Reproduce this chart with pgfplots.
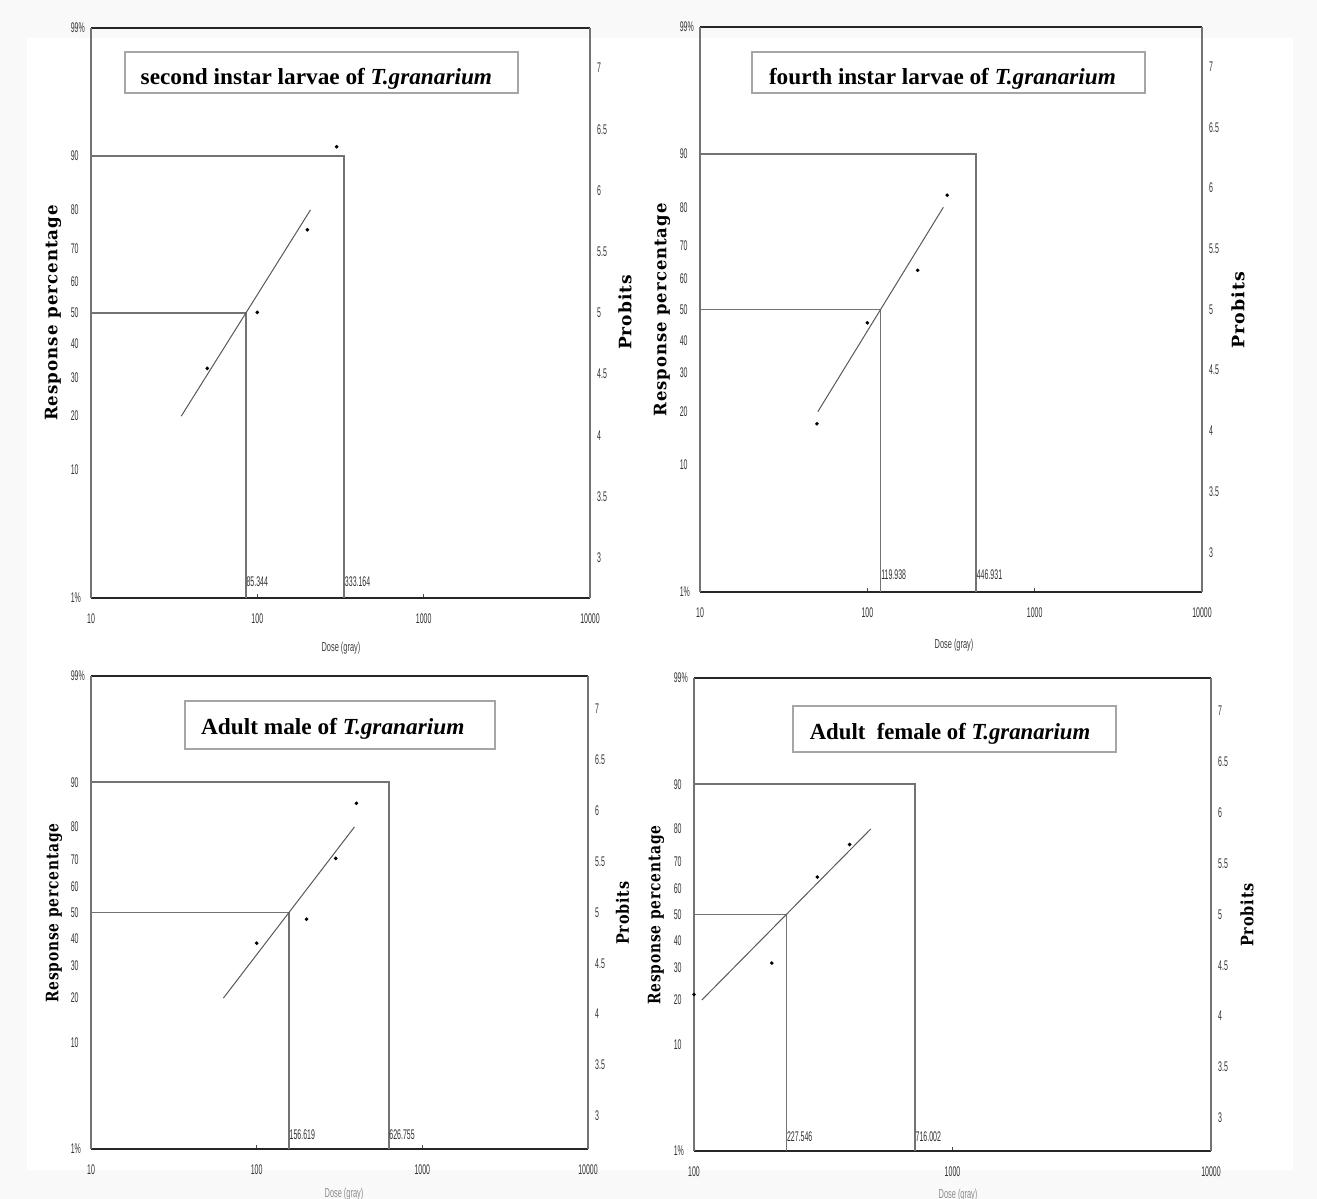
\documentclass[border=0pt]{standalone}
\usepackage{fontspec}
\setmainfont{Liberation Serif}
\setsansfont{Liberation Sans}
\newfontfamily\djs[LetterSpace=6]{DejaVu Serif}
\usepackage{graphicx}
\usepackage{pgfplots}
\pgfplotsset{compat=1.18}

\newcommand{\tl}{\sffamily\fontsize{7}{7}\selectfont}
\tikzset{lcl/.style={anchor=south west, inner sep=0pt, font=\tl, xscale=0.5, text=black!80}}
\pgfplotsset{
  probitleft/.style={
    scale only axis, anchor=south west,
    ymin=2.6737, ymax=7.3263,
    separate axis lines,
    x axis line style={black!85, line width=1.1pt},
    y axis line style={black!55, line width=0.6pt},
    ytick={2.6737,3.7184,4.1584,4.4756,4.7467,5,5.2533,5.5244,5.8416,6.2816,7.3263},
    yticklabels={1\%,10,20,30,40,50,60,70,80,90,99\%},
    yticklabel pos=left,
    ytick style={draw=none},
    yticklabel style={anchor=west, inner sep=0pt, xshift=-10.2pt, font=\tl, xscale=0.5, text=black!80},
    xtick pos=left,
    tick align=inside,
    major tick length=2pt,
    xminorticks=false,
    xtick style={black!70, line width=0.5pt},
    xticklabel style={anchor=north, inner sep=0pt, yshift=-7.5pt, font=\tl, xscale=0.5, text=black!80},
    clip=false,
  },
  probitright/.style={
    scale only axis, anchor=south west,
    ymin=2.6737, ymax=7.3263,
    hide x axis, axis y line*=right,
    y axis line style={draw=none},
    ytick={3,3.5,4,4.5,5,5.5,6,6.5,7},
    yticklabels={3,3.5,4,4.5,5,5.5,6,6.5,7},
    ytick style={draw=none},
    yticklabel style={anchor=west, inner sep=0pt, xshift=3.5pt, font=\tl, xscale=0.5, text=black!80},
  },
  refl/.style={black!55, line width=0.8pt},
  fitl/.style={black!65, line width=0.5pt},
  pts/.style={only marks, mark=*, mark size=0.7pt, black},
}

\begin{document}
\begin{tikzpicture}
\useasboundingbox (0,0) rectangle (658.5pt,599.5pt);
\fill[black!2.5] (0,0) rectangle (658.5pt,599.5pt);
\fill[white] (13.5pt,14.5pt) rectangle (646.5pt,580.5pt);

% ---------------- Panel 1 ----------------
\begin{axis}[probitleft, xmode=log, at={(45.5pt,300.5pt)}, width=249.5pt, height=285pt,
  xmin=10, xmax=10000, xtick={10,100,1000,10000}, xticklabels={10,100,1000,10000}]
  \addplot[refl] coordinates {(10,5) (85.344,5) (85.344,2.6737)};
  \addplot[refl] coordinates {(10,6.2816) (333.164,6.2816) (333.164,2.6737)};
  \addplot[fitl] coordinates {(34.9,4.1584) (208.7,5.8416)};
  \addplot[pts] coordinates {(50,4.548) (100,5.005) (200,5.679) (300,6.357)};
  \node[lcl, xshift=0.5pt, yshift=5.5pt] at (axis cs:85.344,2.6737) {85.344};
  \node[lcl, xshift=0.5pt, yshift=5.5pt] at (axis cs:333.164,2.6737) {333.164};
\end{axis}
\begin{axis}[probitright, xmode=log, at={(45.5pt,300.5pt)}, width=249.5pt, height=285pt, xmin=10, xmax=10000]
\end{axis}

% ---------------- Panel 2 ----------------
\begin{axis}[probitleft, xmode=log, at={(350pt,303.5pt)}, width=251pt, height=282.5pt,
  xmin=10, xmax=10000, xtick={10,100,1000,10000}, xticklabels={10,100,1000,10000}]
  \addplot[refl] coordinates {(10,5) (119.938,5) (119.938,2.6737)};
  \addplot[refl] coordinates {(10,6.2816) (446.931,6.2816) (446.931,2.6737)};
  \addplot[fitl] coordinates {(50.6,4.1584) (284.6,5.8416)};
  \addplot[pts] coordinates {(50,4.059) (100,4.89) (200,5.323) (300,5.941)};
  \node[lcl, xshift=0.5pt, yshift=5.8pt] at (axis cs:119.938,2.6737) {119.938};
  \node[lcl, xshift=0.5pt, yshift=5.8pt] at (axis cs:446.931,2.6737) {446.931};
\end{axis}
\begin{axis}[probitright, xmode=log, at={(350pt,303.5pt)}, width=251pt, height=282.5pt, xmin=10, xmax=10000]
\end{axis}

% ---------------- Panel 3 ----------------
\begin{axis}[probitleft, xmode=log, at={(45.5pt,25pt)}, width=248.5pt, height=236.5pt,
  xmin=10, xmax=10000, xtick={10,100,1000,10000}, xticklabels={10,100,1000,10000}]
  \addplot[refl] coordinates {(10,5) (156.619,5) (156.619,2.6737)};
  \addplot[refl] coordinates {(10,6.2816) (626.755,6.2816) (626.755,2.6737)};
  \addplot[fitl] coordinates {(63,4.1584) (389.4,5.8416)};
  \addplot[pts] coordinates {(100,4.698) (200,4.934) (300,5.532) (400,6.074)};
  \node[lcl, xshift=0.5pt, yshift=4.5pt] at (axis cs:156.619,2.6737) {156.619};
  \node[lcl, xshift=0.5pt, yshift=4.5pt] at (axis cs:626.755,2.6737) {626.755};
\end{axis}
\begin{axis}[probitright, xmode=log, at={(45.5pt,25pt)}, width=248.5pt, height=236.5pt, xmin=10, xmax=10000]
\end{axis}

% ---------------- Panel 4 ----------------
\begin{axis}[probitleft, xmode=log, at={(347pt,24pt)}, width=258.5pt, height=236.5pt,
  xmin=100, xmax=10000, xtick={100,1000,10000}, xticklabels={100,1000,10000}]
  \addplot[refl] coordinates {(100,5) (227.546,5) (227.546,2.6737)};
  \addplot[refl] coordinates {(100,6.2816) (716.002,6.2816) (716.002,2.6737)};
  \addplot[fitl] coordinates {(107.2,4.1584) (483,5.8416)};
  \addplot[pts] coordinates {(100,4.213) (200,4.522) (300,5.368) (400,5.688)};
  \node[lcl, xshift=0.5pt, yshift=4.6pt] at (axis cs:227.546,2.6737) {227.546};
  \node[lcl, xshift=0.5pt, yshift=4.6pt] at (axis cs:716.002,2.6737) {716.002};
\end{axis}
\begin{axis}[probitright, xmode=log, at={(347pt,24pt)}, width=258.5pt, height=236.5pt, xmin=100, xmax=10000]
\end{axis}

% ---------------- Titles ----------------
\draw[black!35, line width=0.8pt] (62.5pt,553pt) rectangle (259pt,573.5pt);
\node[anchor=base west, inner sep=0pt] at (70.15pt,557pt)
  {\resizebox{175.65pt}{8.1pt}{\bfseries second instar larvae of \textit{T.granarium}}};
\draw[black!35, line width=0.8pt] (376pt,553pt) rectangle (572.5pt,573.5pt);
\node[anchor=base west, inner sep=0pt] at (384.3pt,557pt)
  {\resizebox{173.45pt}{8.1pt}{\bfseries fourth instar larvae of \textit{T.granarium}}};
\draw[black!35, line width=0.8pt] (92.5pt,225pt) rectangle (247.5pt,249pt);
\node[anchor=base west, inner sep=0pt] at (100.35pt,232pt)
  {\resizebox{131.65pt}{8.1pt}{\bfseries Adult male of \textit{T.granarium}}};
\draw[black!35, line width=0.8pt] (396.5pt,223.5pt) rectangle (558pt,246.5pt);
\node[anchor=base west, inner sep=0pt] at (404.7pt,229.5pt)
  {\resizebox{140.2pt}{8.1pt}{\bfseries Adult\ \ female of \textit{T.granarium}}};

% ---------------- Axis titles ----------------
\node[rotate=90, inner sep=0pt] at (26.5pt,443pt) {\resizebox{108pt}{6.25pt}{\djs\bfseries Response percentage}};
\node[rotate=90, inner sep=0pt] at (331pt,444.5pt) {\resizebox{106.5pt}{6.25pt}{\djs\bfseries Response percentage}};
\node[rotate=90, inner sep=0pt] at (27pt,143pt) {\resizebox{89.5pt}{6.25pt}{\djs\bfseries Response percentage}};
\node[rotate=90, inner sep=0pt] at (328pt,142pt) {\resizebox{89.5pt}{6.25pt}{\djs\bfseries Response percentage}};

\node[rotate=90, inner sep=0pt] at (312.5pt,443.25pt) {\resizebox{37.5pt}{6.5pt}{\djs\bfseries Probits}};
\node[rotate=90, inner sep=0pt] at (619pt,444.5pt) {\resizebox{38.3pt}{6.5pt}{\djs\bfseries Probits}};
\node[rotate=90, inner sep=0pt] at (311.25pt,142.85pt) {\resizebox{31.7pt}{6.5pt}{\djs\bfseries Probits}};
\node[rotate=90, inner sep=0pt] at (623.5pt,142pt) {\resizebox{31.8pt}{6.5pt}{\djs\bfseries Probits}};

\node[font=\sffamily\fontsize{6.5}{6.5}\selectfont, xscale=0.57, text=black!75] at (170.5pt,275.5pt) {Dose (gray)};
\node[font=\sffamily\fontsize{6.5}{6.5}\selectfont, xscale=0.57, text=black!75] at (477pt,277pt) {Dose (gray)};
\node[font=\sffamily\fontsize{6.5}{6.5}\selectfont, xscale=0.57, text=black!45] at (172pt,2.5pt) {Dose (gray)};
\node[font=\sffamily\fontsize{6.5}{6.5}\selectfont, xscale=0.57, text=black!45] at (479pt,2pt) {Dose (gray)};
\end{tikzpicture}
\end{document}
